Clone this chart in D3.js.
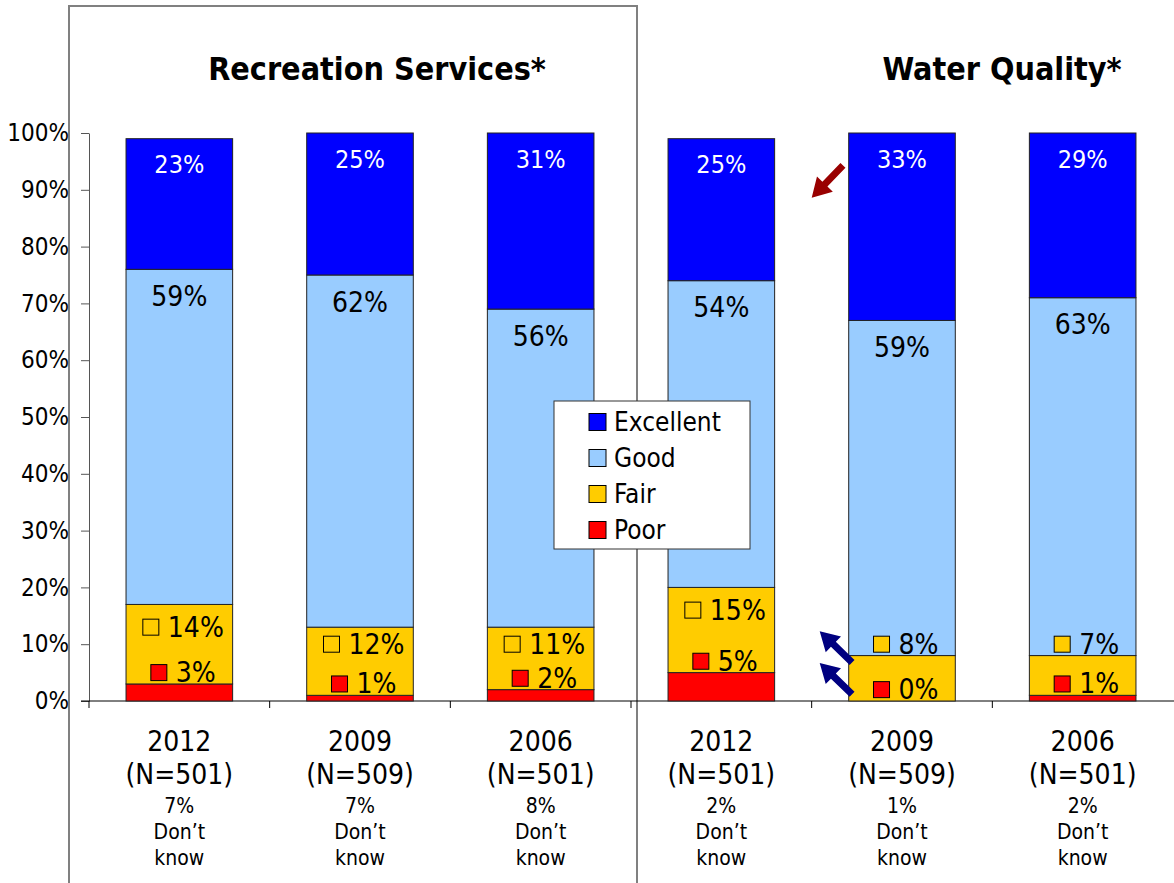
<!DOCTYPE html>
<html>
<head>
<meta charset="utf-8">
<script src="https://cdn.jsdelivr.net/npm/d3@7"></script>
<style>
  body { margin: 0; background: #fff; }
  svg { display: block; font-family: 'DejaVu Sans Condensed', 'DejaVu Sans', sans-serif; font-stretch: condensed; }
</style>
</head>
<body>
<div id="chart"></div>
<script>
// data
const groups = ["Recreation Services*", "Water Quality*"]
const years = ["2012", "2009", "2006", "2012", "2009", "2006"]
const sampleSizes = [501, 509, 501, 501, 509, 501]
const dontKnow = [7, 7, 8, 2, 1, 2]
const poor = [3, 1, 2, 5, 0, 1]
const fair = [14, 12, 11, 15, 8, 7]
const good = [59, 62, 56, 54, 59, 63]
const excellent = [23, 25, 31, 25, 33, 29]
const ratings = ["Excellent", "Good", "Fair", "Poor"]
const yTicks = [0, 10, 20, 30, 40, 50, 60, 70, 80, 90, 100]
// arrows: which bar, the % level the tip points at, pointing angle
const arrows = [
  {bar: 4, value: 88.6, angle: 134, color: "#990000"},
  {bar: 4, value: 12.3, angle: -136, color: "#000080"},
  {bar: 4, value: 6.7, angle: -136, color: "#000080"},
]

const colors = {Excellent: "#0000FF", Good: "#99CCFF", Fair: "#FFCC00", Poor: "#FF0000"}
const width = 1174, height = 883

const rows = years.map((y, i) => ({
  key: i, year: y, n: sampleSizes[i], dk: dontKnow[i],
  Poor: poor[i], Fair: fair[i], Good: good[i], Excellent: excellent[i]
}))

const svg = d3.select("#chart").append("svg")
  .attr("width", width)
  .attr("height", height)

const x = d3.scaleBand()
  .domain(rows.map(d => d.key))
  .range([89, 1173])
  .paddingInner(0.41)
  .paddingOuter(0.205)

const y = d3.scaleLinear()
  .domain([0, 100])
  .range([701, 133])

// frame round the first panel
svg.append("path")
  .attr("d", "M69,883V6H637V883")
  .attr("fill", "none")
  .attr("stroke", "#808080")
  .attr("stroke-width", 2)

// y axis
const yAxis = svg.append("g")
  .attr("transform", "translate(89,0)")
  .call(d3.axisLeft(y).tickValues(yTicks).tickFormat(d => d + "%")
    .tickSize(8).tickSizeOuter(0).tickPadding(12))
yAxis.attr("font-family", null)
yAxis.select(".domain").attr("stroke", "#555")
yAxis.selectAll(".tick line").attr("stroke", "#555")
yAxis.selectAll("text")
  .attr("font-size", 24)
  .attr("fill", "#000")

// x axis line + category boundary ticks
const step = x.step()
svg.append("line")
  .attr("x1", 81).attr("x2", width)
  .attr("y1", y(0)).attr("y2", y(0))
  .attr("stroke", "#000")
svg.append("g").selectAll("line")
  .data(d3.range(rows.length))
  .join("line")
    .attr("x1", i => 89 + i * step)
    .attr("x2", i => 89 + i * step)
    .attr("y1", y(0))
    .attr("y2", y(0) + 7)
    .attr("stroke", "#000")

// stacked bars
const stack = d3.stack().keys(["Poor", "Fair", "Good", "Excellent"])
const layers = stack(rows)

svg.append("g").selectAll("g")
  .data(layers)
  .join("g")
    .attr("fill", d => colors[d.key])
  .selectAll("rect")
  .data(d => d)
  .join("rect")
    .attr("x", d => x(d.data.key))
    .attr("width", x.bandwidth())
    .attr("y", d => y(d[1]))
    .attr("height", d => y(d[0]) - y(d[1]))
    .attr("stroke", "#222")
    .attr("stroke-width", 1)

// value labels
const labels = svg.append("g")
rows.forEach(d => {
  const cx = x(d.key) + x.bandwidth() / 2
  const top = d.Poor + d.Fair + d.Good + d.Excellent
  labels.append("text")
    .attr("x", cx).attr("y", y(top) + 26)
    .attr("text-anchor", "middle").attr("dominant-baseline", "central")
    .attr("font-size", 25).attr("fill", "#fff")
    .text(d.Excellent + "%")
  labels.append("text")
    .attr("x", cx).attr("y", y(d.Poor + d.Fair + d.Good) + 27)
    .attr("text-anchor", "middle").attr("dominant-baseline", "central")
    .attr("font-size", 28).attr("fill", "#000")
    .text(d.Good + "%")

  // small marker + value for the thin segments
  const marked = [
    {key: "Fair", v: d.Fair, at: Math.max(10, d.Poor + d.Fair - 4)},
    {key: "Poor", v: d.Poor, at: d.Poor + 2},
  ]
  marked.forEach(m => {
    const g = labels.append("g")
    const t = g.append("text")
      .attr("x", 25).attr("y", 0)
      .attr("dominant-baseline", "central")
      .attr("font-size", 28).attr("fill", "#000")
      .text(m.v + "%")
    g.append("rect")
      .attr("x", 0).attr("y", -8)
      .attr("width", 16).attr("height", 16)
      .attr("fill", colors[m.key])
      .attr("stroke", "#000")
    const w = 25 + t.node().getComputedTextLength()
    g.attr("transform", `translate(${cx + 4 - w / 2},${y(m.at)})`)
  })
})

// category labels under the axis
const cats = svg.append("g").attr("text-anchor", "middle").attr("fill", "#000")
rows.forEach(d => {
  const cx = x(d.key) + x.bandwidth() / 2
  const lines = [
    {t: d.year, dy: 741, s: 28},
    {t: `(N=${d.n})`, dy: 774, s: 28},
    {t: d.dk + "%", dy: 806, s: 21},
    {t: "Don\u2019t", dy: 832, s: 21},
    {t: "know", dy: 858, s: 21},
  ]
  lines.forEach(l => {
    cats.append("text")
      .attr("x", cx).attr("y", l.dy)
      .attr("dominant-baseline", "central")
      .attr("font-size", l.s)
      .text(l.t)
  })
})

// panel titles
const titleX = [377, 1002]
svg.append("g").selectAll("text")
  .data(groups)
  .join("text")
    .attr("x", (d, i) => titleX[i])
    .attr("y", 80)
    .attr("text-anchor", "middle")
    .attr("font-size", 32)
    .attr("font-weight", "bold")
    .text(d => d)

// arrows
const arrowPath = "M0,0L-19,-11L-19,-3.5L-45,-3.5L-45,3.5L-19,3.5L-19,11Z"
svg.append("g").selectAll("path")
  .data(arrows)
  .join("path")
    .attr("d", arrowPath)
    .attr("fill", d => d.color)
    .attr("transform", d => {
      const tipX = x(d.bar) - (d.angle > 0 ? 37 : 29)
      return `translate(${tipX},${y(d.value)}) rotate(${d.angle})`
    })

// legend
const legend = svg.append("g").attr("transform", "translate(554,401)")
legend.append("rect")
  .attr("width", 196).attr("height", 148)
  .attr("fill", "#fff").attr("stroke", "#333")
legend.selectAll("g")
  .data(ratings)
  .join("g")
    .attr("transform", (d, i) => `translate(35,${21 + i * 36})`)
    .call(g => g.append("rect")
      .attr("x", 0).attr("y", -8.5)
      .attr("width", 17).attr("height", 17)
      .attr("fill", d => colors[d]).attr("stroke", "#000"))
    .call(g => g.append("text")
      .attr("x", 25).attr("dominant-baseline", "central")
      .attr("font-size", 26)
      .text(d => d))
</script>
</body>
</html>
